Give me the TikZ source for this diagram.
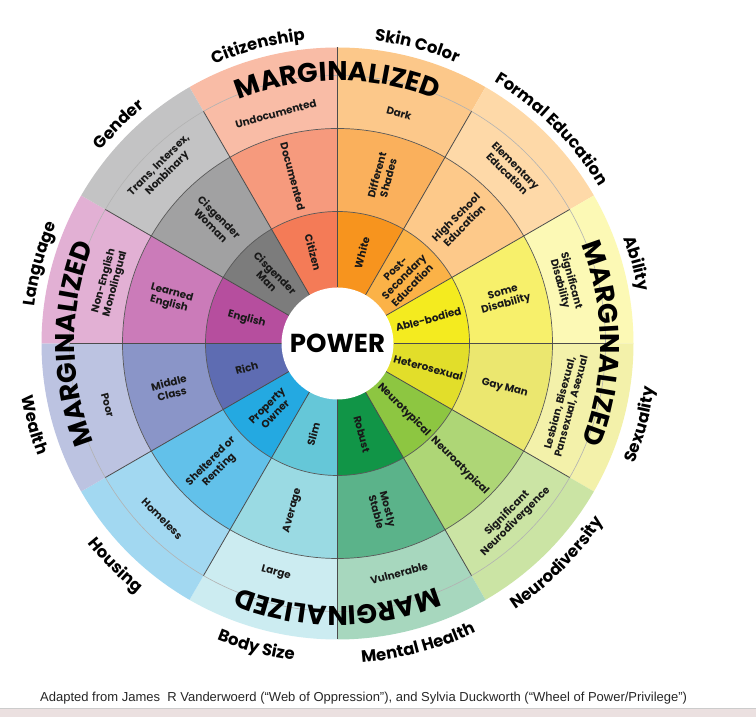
\documentclass[tikz,border=0pt]{standalone}
\usepackage{fontspec}
\setmainfont{Poppins}
\newfontfamily\capfont{Liberation Sans}
\usetikzlibrary{decorations.text}

\definecolor{ciA}{HTML}{F47B57}\definecolor{ciB}{HTML}{F69A7D}\definecolor{ciC}{HTML}{F9BCA6}
\definecolor{skA}{HTML}{F7941E}\definecolor{skB}{HTML}{FAB05C}\definecolor{skC}{HTML}{FCC88A}
\definecolor{feA}{HTML}{FBB247}\definecolor{feB}{HTML}{FDC98A}\definecolor{feC}{HTML}{FED9A8}
\definecolor{abA}{HTML}{F4EB1F}\definecolor{abB}{HTML}{F7F06B}\definecolor{abC}{HTML}{FCF9B5}
\definecolor{seA}{HTML}{E2DE2A}\definecolor{seB}{HTML}{EBE76F}\definecolor{seC}{HTML}{F3F1AA}
\definecolor{neA}{HTML}{8DC641}\definecolor{neB}{HTML}{AED676}\definecolor{neC}{HTML}{CBE4A4}
\definecolor{meA}{HTML}{119547}\definecolor{meB}{HTML}{5BB38A}\definecolor{meC}{HTML}{A7D7BE}
\definecolor{boA}{HTML}{65C7D8}\definecolor{boB}{HTML}{9ADAE3}\definecolor{boC}{HTML}{CCECF1}
\definecolor{hoA}{HTML}{24A9E1}\definecolor{hoB}{HTML}{62C1EA}\definecolor{hoC}{HTML}{A2D8F1}
\definecolor{weA}{HTML}{5E6CB2}\definecolor{weB}{HTML}{8A95C8}\definecolor{weC}{HTML}{BCC3E1}
\definecolor{laA}{HTML}{B64E9E}\definecolor{laB}{HTML}{CB7BB9}\definecolor{laC}{HTML}{E2B0D4}
\definecolor{geA}{HTML}{7C7C7C}\definecolor{geB}{HTML}{A1A1A2}\definecolor{geC}{HTML}{C3C3C4}
\definecolor{stripc}{HTML}{EBE0E0}

\newcommand\lblfont{\bfseries\fontsize{16.5}{16.5}\selectfont}
\newcommand\margfont{\bfseries\fontsize{27}{27}\selectfont}
\newcommand\wslice[3]{\fill[#3] (0,0) -- (#1-15:#2) arc[start angle=#1-15,end angle=#1+15,radius=#2] -- cycle;}
\newcommand\uplbl[2]{\path[decorate,decoration={text along path,text align=center,text={|\lblfont|#2}}] (#1+30:305) arc[start angle=#1+30,end angle=#1-30,radius=305];}
\newcommand\lowlbl[2]{\path[decorate,decoration={text along path,text align=center,text={|\lblfont|#2}}] (#1-30:320) arc[start angle=#1-30,end angle=#1+30,radius=320];}
\newcommand\margtext[1]{\path[decorate,decoration={text along path,text align=center,text={|\margfont|MARGINALIZED}}] (#1+60:263) arc[start angle=#1+60,end angle=#1-60,radius=263];}

\tikzset{
  sepline/.style={draw=black!70, line width=0.8pt},
  ringline/.style={draw=black!65, line width=0.7pt},
  thinring/.style={draw=black!30, line width=0.6pt},
  tx/.style={font=\bfseries\fontsize{10.4}{11.8}\selectfont, align=center, text=black!90, inner sep=0pt},
}

\begin{document}
\begin{tikzpicture}[x=1pt,y=1pt]
\useasboundingbox (0,0) rectangle (756,717);
\fill[white] (0,0) rectangle (756,717);
\fill[stripc] (0,0) rectangle (756,8.5);
\draw[black!20, line width=0.6pt] (0,8.5) -- (756,8.5);
\coordinate (C) at (337.5,373.5);

\begin{scope}[shift={(C)}]
% outer ring (3rd ring + band)
\wslice{105}{296}{ciC}\wslice{75}{296}{skC}\wslice{45}{296}{feC}\wslice{15}{296}{abC}
\wslice{-15}{296}{seC}\wslice{-45}{296}{neC}\wslice{-75}{296}{meC}\wslice{-105}{296}{boC}
\wslice{-135}{296}{hoC}\wslice{-165}{296}{weC}\wslice{165}{296}{laC}\wslice{135}{296}{geC}
% middle ring
\wslice{105}{215}{ciB}\wslice{75}{215}{skB}\wslice{45}{215}{feB}\wslice{15}{215}{abB}
\wslice{-15}{215}{seB}\wslice{-45}{215}{neB}\wslice{-75}{215}{meB}\wslice{-105}{215}{boB}
\wslice{-135}{215}{hoB}\wslice{-165}{215}{weB}\wslice{165}{215}{laB}\wslice{135}{215}{geB}
% inner ring
\wslice{105}{132}{ciA}\wslice{75}{132}{skA}\wslice{45}{132}{feA}\wslice{15}{132}{abA}
\wslice{-15}{132}{seA}\wslice{-45}{132}{neA}\wslice{-75}{132}{meA}\wslice{-105}{132}{boA}
\wslice{-135}{132}{hoA}\wslice{-165}{132}{weA}\wslice{165}{132}{laA}\wslice{135}{132}{geA}

\draw[thinring] (0,0) circle[radius=268];
\draw[ringline] (0,0) circle[radius=132];
\draw[ringline] (0,0) circle[radius=215];
\foreach \t in {0,30,60,120,150,180,210,240,300,330} \draw[sepline] (\t:56) -- (\t:268);
\draw[sepline] (90:56) -- (90:296);
\draw[sepline] (270:56) -- (270:296);

\fill[white] (0,0) circle[radius=56];
\node[font=\bfseries\fontsize{26}{26}\selectfont, inner sep=0pt] (power) at (0,0) {POWER};

% inner ring texts
\node[tx, rotate=-75] (r1a) at (105:94) {Citizen};
\node[tx, rotate=75]  (r1b) at (75:94) {White};
\node[tx, rotate=45]  (r1c) at (45:94) {Post-\\Secondary\\Education};
\node[tx, rotate=15]  (r1d) at (15:94) {Able-bodied};
\node[tx, rotate=-15] (r1e) at (-15:94) {Heterosexual};
\node[tx, rotate=-45] (r1f) at (-45:94) {Neurotypical};
\node[tx, rotate=-75] (r1g) at (-75:94) {Robust};
\node[tx, rotate=75]  (r1h) at (-105:94) {Slim};
\node[tx, rotate=45]  (r1i) at (-135:94) {Property\\Owner};
\node[tx, rotate=15]  (r1j) at (-165:94) {Rich};
\node[tx, rotate=-15] (r1k) at (165:94) {English};
\node[tx, rotate=-45] (r1l) at (135:94) {Cisgender\\Man};

% middle ring texts
\node[tx, rotate=-75] (r2a) at (105:173) {Documented};
\node[tx, rotate=75]  (r2b) at (75:173) {Different\\Shades};
\node[tx, rotate=45]  (r2c) at (45:173) {High School\\Education};
\node[tx, rotate=15]  (r2d) at (15:173) {Some\\Disability};
\node[tx, rotate=-15] (r2e) at (-15:173) {Gay Man};
\node[tx, rotate=-45] (r2f) at (-45:173) {Neuroatypical};
\node[tx, rotate=-75] (r2g) at (-75:173) {Mostly\\Stable};
\node[tx, rotate=75]  (r2h) at (-105:173) {Average};
\node[tx, rotate=45]  (r2i) at (-135:173) {Sheltered or\\Renting};
\node[tx, rotate=15]  (r2j) at (-165:173) {Middle\\Class};
\node[tx, rotate=-15] (r2k) at (165:173) {Learned\\English};
\node[tx, rotate=-45] (r2l) at (135:173) {Cisgender\\Woman};

% outer ring texts
\node[tx, rotate=15]  (r3a) at (105:238) {Undocumented};
\node[tx, rotate=-15] (r3b) at (75:238) {Dark};
\node[tx, rotate=-45] (r3c) at (45:246) {Elementary\\Education};
\node[tx, rotate=-75] (r3d) at (15:236) {Significant\\Disability};
\node[tx, rotate=75]  (r3e) at (-15:236) {Lesbian, Bisexual,\\Pansexual, Asexual};
\node[tx, rotate=45]  (r3f) at (-45:246) {Significant\\Neurodivergence};
\node[tx, rotate=15]  (r3g) at (-75:238) {Vulnerable};
\node[tx, rotate=-15] (r3h) at (-105:238) {Large};
\node[tx, rotate=-45] (r3i) at (-135:248) {Homeless};
\node[tx, rotate=-75] (r3j) at (-165:238) {Poor};
\node[tx, rotate=75]  (r3k) at (165:236) {Non-English\\Monolingual};
\node[tx, rotate=45]  (r3l) at (135:246) {Trans, Intersex,\\Nonbinary};

% MARGINALIZED labels
\margtext{90}
\margtext{0}
\margtext{-90}
\margtext{180}

% category labels
\uplbl{105}{Citizenship}
\uplbl{75}{Skin Color}
\uplbl{45}{Formal Education}
\uplbl{15}{Ability}
\uplbl{165}{Language}
\uplbl{135}{Gender}
\lowlbl{-15}{Sexuality}
\lowlbl{-45}{Neurodiversity}
\lowlbl{-75}{Mental Health}
\lowlbl{-105}{Body Size}
\lowlbl{-135}{Housing}
\lowlbl{-165}{Wealth}
\end{scope}

\node[font=\capfont\fontsize{13}{13}\selectfont, anchor=west, inner sep=0pt, text=black!85] (caption) at (40,19) {Adapted from James\ \ R Vanderwoerd (“Web of Oppression”), and Sylvia Duckworth (“Wheel of Power/Privilege”)};
\end{tikzpicture}
\end{document}
